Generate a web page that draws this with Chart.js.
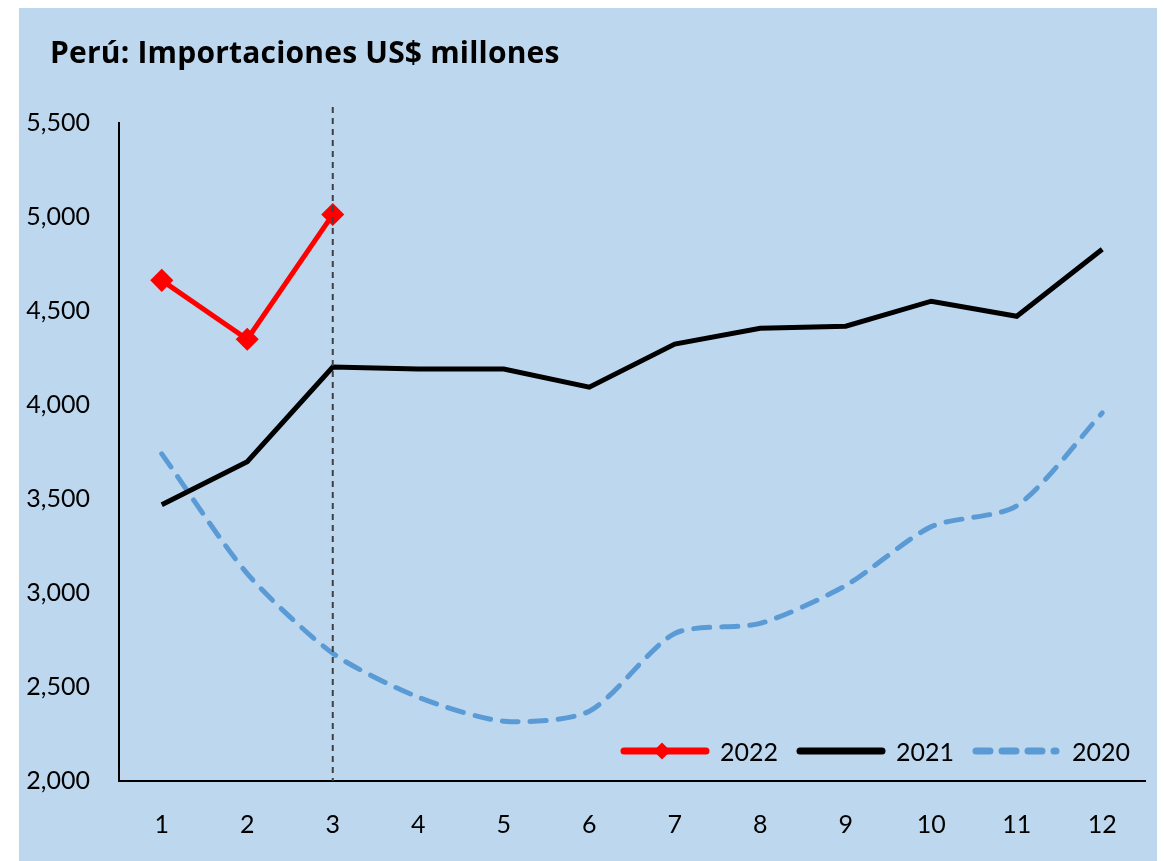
<!doctype html>
<html lang="es">
<head>
    <meta charset="utf-8">
    <title>Perú: Importaciones</title>
    <script src="https://cdn.jsdelivr.net/npm/chart.js"></script>
    <style>
        body { margin: 0; background: #fff; font-family: Lato, sans-serif; }
        #wrap { position: relative; width: 1164px; height: 861px; }
        #bg { position: absolute; left: 19px; top: 8px; width: 1138px; height: 853px; background: #BDD7EE; }
        #myChart { position: absolute; left: 0; top: 0; }
        #title { position: absolute; left: 50px; top: 37px; line-height: 30px; font-family: 'Open Sans', sans-serif; font-size: 30px; font-weight: bold; color: #000; letter-spacing: 0.2px; }
        #legend { position: absolute; right: 34px; top: 736px; display: flex; align-items: center; font-size: 25px; }
        #legend .item { display: flex; align-items: center; margin-left: 18px; }
        #legend svg { margin-right: 10px; }
    </style>
</head>
<body>
<div id="wrap">
    <div id="bg"></div>
    <canvas id="myChart" width="1164" height="861"></canvas>
    <div id="title">Perú: Importaciones US$ millones</div>
    <div id="legend"></div>
</div>

<script>
    const months = ['1', '2', '3', '4', '5', '6', '7', '8', '9', '10', '11', '12'];
    const imp2022 = [4663, 4350, 5013, null, null, null, null, null, null, null, null, null];
    const imp2021 = [3469, 3698, 4202, 4191, 4191, 4095, 4324, 4408, 4419, 4552, 4472, 4828];
    const imp2020 = [3740, 3103, 2679, 2446, 2318, 2371, 2785, 2838, 3040, 3353, 3464, 3958];

    // dashed marker line at the last month with 2022 data
    const markerLine = {
        id: 'markerLine',
        afterDatasetsDraw(chart) {
            const ctx = chart.ctx;
            const x = chart.scales.x.getPixelForValue(2);
            ctx.save();
            ctx.strokeStyle = '#404040';
            ctx.lineWidth = 2;
            ctx.setLineDash([6, 5]);
            ctx.beginPath();
            ctx.moveTo(x, chart.chartArea.top - 16);
            ctx.lineTo(x, chart.chartArea.bottom);
            ctx.stroke();
            ctx.restore();
        }
    };

    const ctx = document.getElementById('myChart').getContext('2d');
    const chart = new Chart(ctx, {
        type: 'line',
        data: {
            labels: months,
            datasets: [{
                label: '2022',
                data: imp2022,
                borderColor: '#FF0000',
                backgroundColor: '#FF0000',
                borderWidth: 5,
                pointStyle: 'rectRot',
                pointRadius: 8,
                pointHoverRadius: 8,
                order: 0
            }, {
                label: '2021',
                data: imp2021,
                borderColor: '#000000',
                borderWidth: 5,
                pointRadius: 0,
                order: 1
            }, {
                label: '2020',
                data: imp2020,
                borderColor: '#5B9BD5',
                borderWidth: 5,
                borderDash: [16, 12],
                borderCapStyle: 'round',
                tension: 0.25,
                pointRadius: 0,
                order: 2
            }]
        },
        options: {
            responsive: false,
            animation: false,
            layout: { padding: { left: 20, right: 19, top: 123, bottom: 0 } },
            plugins: {
                legend: { display: false },
                tooltip: { enabled: false }
            },
            scales: {
                x: {
                    offset: true,
                    grid: { display: false },
                    border: { display: true, color: '#000', width: 2 },
                    ticks: { color: '#000', font: { family: 'Lato', size: 25 }, padding: 21, maxRotation: 0 },
                    afterFit(scale) { scale.height = 80; }
                },
                y: {
                    min: 2000,
                    max: 5500,
                    grid: { display: false },
                    border: { display: true, color: '#000', width: 2 },
                    ticks: {
                        stepSize: 500,
                        color: '#000',
                        font: { family: 'Lato', size: 25 },
                        padding: 21,
                        callback: v => v.toLocaleString('en-US')
                    },
                    afterFit(scale) { scale.width = 99; }
                }
            }
        },
        plugins: [markerLine]
    });

    // legend drawn from the datasets
    const legend = document.getElementById('legend');
    chart.data.datasets.forEach(ds => {
        const dash = ds.borderDash ? 'stroke-dasharray="14 12"' : '';
        const marker = ds.pointRadius ? '<rect x="36" y="4" width="12" height="12" fill="' + ds.borderColor + '" transform="rotate(45 42 10)"/>' : '';
        const item = document.createElement('div');
        item.className = 'item';
        item.innerHTML = '<svg width="90" height="20"><line x1="4" y1="10" x2="' + (ds.borderDash ? 84 : 86) + '" y2="10" stroke="' + ds.borderColor +
            '" stroke-width="7" stroke-linecap="round" ' + dash + '/>' + marker + '</svg><span>' + ds.label + '</span>';
        legend.appendChild(item);
    });
</script>
</body>
</html>
